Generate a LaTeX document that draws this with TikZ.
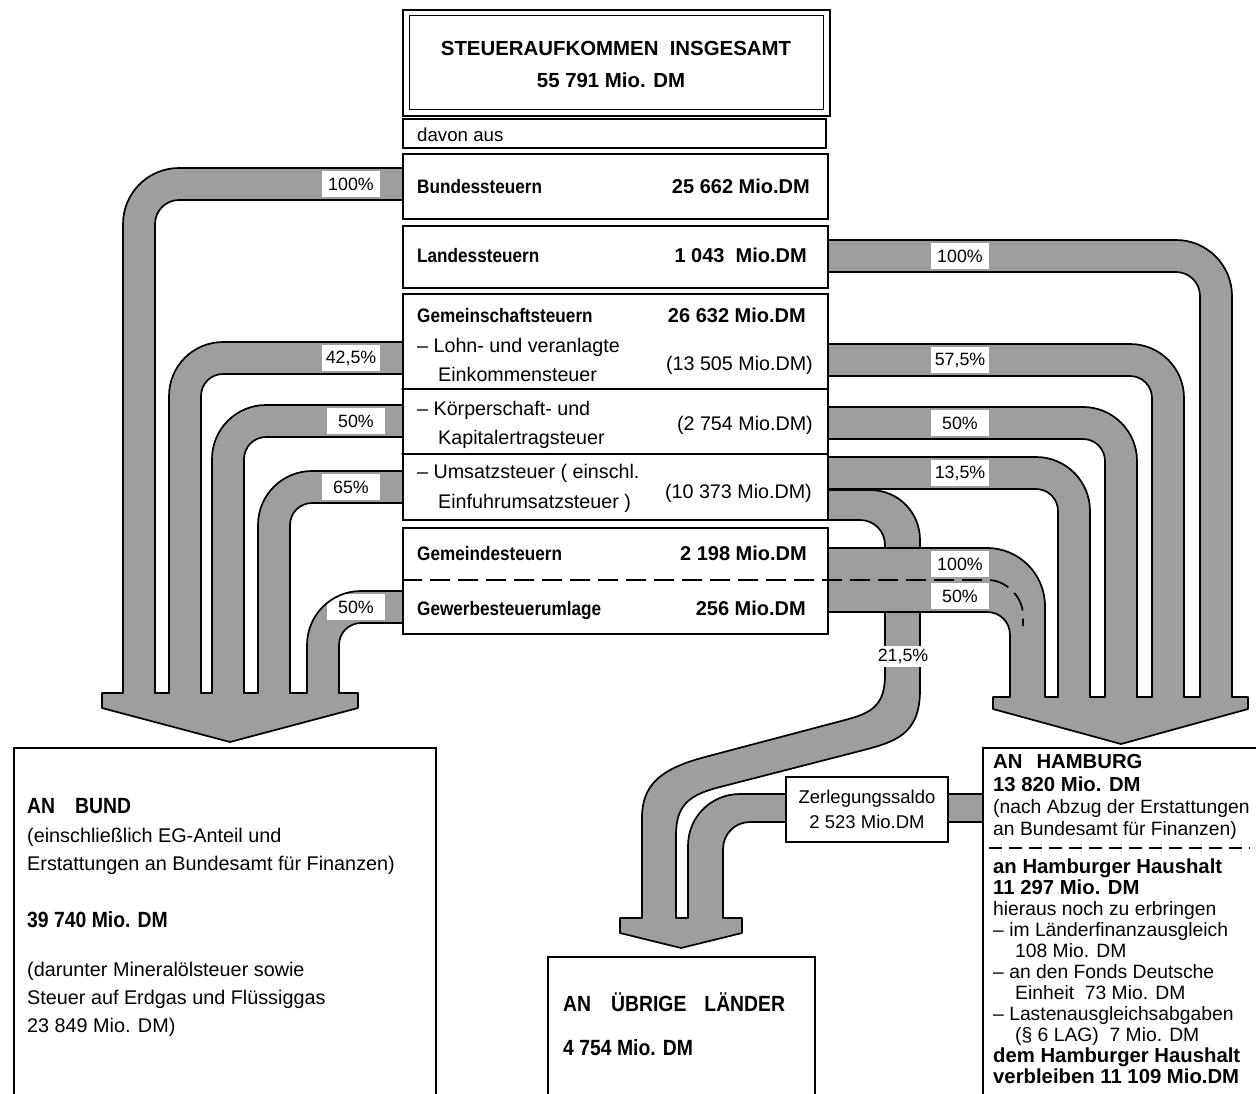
\documentclass[tikz,border=0pt]{standalone}
\usepackage{fontspec}
\setmainfont{Liberation Sans}[BoldFeatures={FakeStretch=0.88}]
\newfontfamily\widesans{Liberation Sans}
\definecolor{bandgray}{gray}{0.62}
\begin{document}
\begin{tikzpicture}[x=1pt,y=-1pt,
  bandstroke/.style={draw=bandgray, line width=32pt, line cap=butt},
  edge/.style={draw=black, line width=1.7pt, line cap=round, line join=round},
  box/.style={draw=black, fill=white, line width=1.7pt, inner sep=0pt, anchor=north west},
  rb/.style={font=\bfseries\fontsize{19.5}{22}\selectfont, inner sep=0pt},
  rn/.style={font=\widesans\bfseries\fontsize{20}{22}\selectfont, inner sep=0pt, anchor=base east},
  rr/.style={font=\fontsize{19.7}{22}\selectfont, inner sep=0pt},
  tt/.style={font=\widesans\bfseries\fontsize{20.4}{22}\selectfont, inner sep=0pt, anchor=base},
  bb/.style={font=\bfseries\fontsize{22}{24}\selectfont, inner sep=0pt, anchor=base west},
  br/.style={font=\fontsize{19.8}{24}\selectfont, inner sep=0pt, anchor=base west},
  hb/.style={font=\widesans\bfseries\fontsize{20.3}{22}\selectfont, inner sep=0pt, anchor=base west},
  hr/.style={font=\fontsize{19.3}{22}\selectfont, inner sep=0pt, anchor=base west},
  pct/.style={fill=white, inner sep=0pt, minimum width=58pt, minimum height=26pt, font=\fontsize{17.8}{20}\selectfont},
]
\useasboundingbox (0,0) rectangle (1256,1093);
\clip (0,0) rectangle (1256,1093);
\fill[white] (0,0) rectangle (1256,1093);

% ---------- middle flow (21,5 %) and Zerlegungssaldo ----------
\fill[bandgray] (827,490) -- (870,490) .. controls (898,490) and (920,512) .. (920,540) -- (920,690)
  .. controls (920,735) and (895,742) .. (860,751) -- (720,787) .. controls (688,795) and (676,806) .. (676,835)
  -- (676,920) -- (642,920) -- (642,818) .. controls (642,785) and (660,769) .. (705,757) -- (845,720)
  .. controls (872,713) and (885,705) .. (885,675) -- (885,545) .. controls (885,531) and (874,520) .. (860,520)
  -- (827,520) -- cycle;
\fill[bandgray] (982,794) -- (740,794) .. controls (711,794) and (688,817) .. (688,846) -- (688,920)
  -- (723,920) -- (723,849) .. controls (723,834) and (735,822) .. (750,822) -- (982,822) -- cycle;
\fill[bandgray] (620,917) -- (742,917) -- (742,933) -- (681,948) -- (620,933) -- cycle;
\path[edge] (827,490) -- (870,490) .. controls (898,490) and (920,512) .. (920,540) -- (920,690)
  .. controls (920,735) and (895,742) .. (860,751) -- (720,787) .. controls (688,795) and (676,806) .. (676,835)
  -- (676,918) -- (688,918) -- (688,846) .. controls (688,817) and (711,794) .. (740,794) -- (982,794);
\path[edge] (827,520) -- (860,520) .. controls (874,520) and (885,531) .. (885,545) -- (885,675)
  .. controls (885,705) and (872,713) .. (845,720) -- (705,757) .. controls (660,769) and (642,785) .. (642,818)
  -- (642,918) -- (620,918) -- (620,933) -- (681,948) -- (742,933) -- (742,918) -- (723,918)
  -- (723,849) .. controls (723,834) and (735,822) .. (750,822) -- (982,822);

% ---------- right flows ----------
\draw[bandstroke, rounded corners=40pt] (827,256) -- (1216,256) -- (1216,699);
\draw[bandstroke, rounded corners=38pt] (827,360) -- (1168,360) -- (1168,699);
\draw[bandstroke, rounded corners=38pt] (827,423) -- (1121,423) -- (1121,699);
\draw[bandstroke, rounded corners=38pt] (827,473) -- (1074,473) -- (1074,699);
\fill[bandgray] (827,548) -- (987,548) .. controls (1019,548) and (1045,574) .. (1045,606) -- (1045,699)
  -- (1010,699) -- (1010,635) .. controls (1010,622) and (1000,612) .. (987,612) -- (827,612) -- cycle;
\fill[bandgray] (993,696) -- (1248,696) -- (1248,709) -- (1121,744) -- (993,709) -- cycle;

% ---------- left flows ----------
\draw[bandstroke, rounded corners=40pt] (402,184) -- (139,184) -- (139,695);
\draw[bandstroke, rounded corners=38pt] (402,358) -- (185,358) -- (185,695);
\draw[bandstroke, rounded corners=38pt] (402,421) -- (228,421) -- (228,695);
\draw[bandstroke, rounded corners=38pt] (402,487) -- (274,487) -- (274,695);
\draw[bandstroke, rounded corners=38pt] (402,607) -- (323,607) -- (323,695);
\fill[bandgray] (102,692) -- (358,692) -- (358,708) -- (230,742) -- (102,708) -- cycle;

% ---------- percentage labels ----------
\node[pct] (l100) at (351,184) {100\%};
\node[pct] (l425) at (351,358) {42,5\%};
\node[pct] (l50a) at (356,421) {50\%};
\node[pct] (l65)  at (351,487) {65\%};
\node[pct] (l50b) at (356,607) {50\%};
\node[pct] (r100) at (960,256) {100\%};
\node[pct] (r575) at (960,360) {57,5\%};
\node[pct] (r50a) at (960,423) {50\%};
\node[pct] (r135) at (960,473) {13,5\%};
\node[pct] (r100b) at (960,564) {100\%};
\node[pct] (r50b) at (960,596) {50\%};
\node[pct, minimum width=60pt, minimum height=21pt] (m215) at (903,656) {21,5\%};

% ---------- right edges ----------
\path[edge, rounded corners=56pt] (827,240) -- (1232,240) -- (1232,697);
\path[edge, rounded corners=24pt] (827,272) -- (1200,272) -- (1200,697);
\path[edge, rounded corners=54pt] (827,344) -- (1184,344) -- (1184,697);
\path[edge, rounded corners=22pt] (827,376) -- (1152,376) -- (1152,697);
\path[edge, rounded corners=54pt] (827,407) -- (1137,407) -- (1137,697);
\path[edge, rounded corners=22pt] (827,439) -- (1105,439) -- (1105,697);
\path[edge, rounded corners=54pt] (827,457) -- (1090,457) -- (1090,697);
\path[edge, rounded corners=22pt] (827,489) -- (1058,489) -- (1058,697);
\path[edge] (827,548) -- (987,548) .. controls (1019,548) and (1045,574) .. (1045,606) -- (1045,697) -- (1058,697);
\path[edge] (827,612) -- (987,612) .. controls (1000,612) and (1010,622) .. (1010,635) -- (1010,697)
  -- (993,697) -- (993,709) -- (1121,744) -- (1248,709) -- (1248,697) -- (1232,697);
\path[edge] (1090,697) -- (1105,697);
\path[edge] (1137,697) -- (1152,697);
\path[edge] (1184,697) -- (1200,697);

% ---------- left edges ----------
\path[edge, rounded corners=56pt] (402,168) -- (123,168) -- (123,693);
\path[edge, rounded corners=24pt] (402,200) -- (155,200) -- (155,693);
\path[edge, rounded corners=54pt] (402,342) -- (169,342) -- (169,693);
\path[edge, rounded corners=22pt] (402,374) -- (201,374) -- (201,693);
\path[edge, rounded corners=54pt] (402,405) -- (212,405) -- (212,693);
\path[edge, rounded corners=22pt] (402,437) -- (244,437) -- (244,693);
\path[edge, rounded corners=54pt] (402,471) -- (258,471) -- (258,693);
\path[edge, rounded corners=22pt] (402,503) -- (290,503) -- (290,693);
\path[edge, rounded corners=54pt] (402,591) -- (307,591) -- (307,693);
\path[edge, rounded corners=22pt] (402,623) -- (339,623) -- (339,693);
\path[edge] (123,693) -- (102,693) -- (102,708) -- (230,742) -- (358,708) -- (358,693) -- (339,693);
\path[edge] (155,693) -- (169,693);
\path[edge] (201,693) -- (212,693);
\path[edge] (244,693) -- (258,693);
\path[edge] (290,693) -- (307,693);

% ---------- central boxes ----------
\node[box, minimum width=427pt, minimum height=106pt] (total) at (402,9) {};
\node[box, minimum width=414pt, minimum height=94pt, line width=1.3pt] (totalin) at (409,15) {};
\node[box, minimum width=423pt, minimum height=29pt] (davon) at (402,118) {};
\node[box, minimum width=425pt, minimum height=65pt] (bund) at (402,153) {};
\node[box, minimum width=425pt, minimum height=62pt] (land) at (402,225) {};
\node[box, minimum width=425pt, minimum height=226pt] (gem) at (402,293) {};
\path[edge] (402,389) -- (827,389);
\path[edge] (402,454) -- (827,454);
\node[box, minimum width=425pt, minimum height=106pt] (gmd) at (402,527) {};

\node[tt] (t1) at (616,55) {STEUERAUFKOMMEN\ \ INSGESAMT};
\node[tt] (t2) at (611,87) {55 791 Mio. DM};
\node[rr, anchor=base west, font=\fontsize{18.7}{22}\selectfont] (t3) at (417,141) {davon aus};
\node[rb, anchor=base west] (t4) at (417,193) {Bundessteuern};
\node[rn] (t5) at (810,193) {25 662 Mio.DM};
\node[rb, anchor=base west] (t6) at (417,262) {Landessteuern};
\node[rn] (t7) at (807,262) {1 043\ \ Mio.DM};
\node[rb, anchor=base west] (t8) at (417,322) {Gemeinschaftsteuern};
\node[rn] (t9) at (806,322) {26 632 Mio.DM};
\node[rr, anchor=base west] (t10) at (417,352) {– Lohn- und veranlagte};
\node[rr, anchor=base west] (t11) at (438,381) {Einkommensteuer};
\node[rr, anchor=base east] (t12) at (813,370) {(13 505 Mio.DM)};
\node[rr, anchor=base west] (t13) at (417,415) {– Körperschaft- und};
\node[rr, anchor=base west] (t14) at (438,444) {Kapitalertragsteuer};
\node[rr, anchor=base east] (t15) at (813,430) {(2 754 Mio.DM)};
\node[rr, anchor=base west] (t16) at (417,478) {– Umsatzsteuer ( einschl.};
\node[rr, anchor=base west] (t17) at (438,508) {Einfuhrumsatzsteuer )};
\node[rr, anchor=base east] (t18) at (812,498) {(10 373 Mio.DM)};
\node[rb, anchor=base west] (t19) at (417,560) {Gemeindesteuern};
\node[rn] (t20) at (807,560) {2 198 Mio.DM};
\node[rb, anchor=base west] (t21) at (417,615) {Gewerbesteuerumlage};
\node[rn] (t22) at (806,615) {256 Mio.DM};

% dashed split of Gemeindesteuern into the flow
\draw[line width=1.7pt, dash pattern=on 20pt off 8pt] (402,580) -- (988,580)
  .. controls (1006,580) and (1023,597) .. (1023,615) -- (1023,626);

% ---------- Zerlegungssaldo ----------
\node[draw, fill=white, line width=1.7pt, minimum width=162pt, minimum height=65pt, inner sep=0pt,
  align=center, font=\fontsize{18.5}{25}\selectfont] (zer) at (867,809.5) {Zerlegungssaldo\\2 523 Mio.DM};

% ---------- receiving boxes ----------
\node[box, minimum width=422pt, minimum height=400pt] (anbund) at (13,747) {};
\node[bb] (b1) at (27,813) {AN\hspace*{20pt}BUND};
\node[br] (b2) at (27,842) {(einschließlich EG-Anteil und};
\node[br] (b3) at (27,870) {Erstattungen an Bundesamt für Finanzen)};
\node[bb] (b4) at (27,927) {39 740 Mio. DM};
\node[br] (b5) at (27,976) {(darunter Mineralölsteuer sowie};
\node[br] (b6) at (27,1004) {Steuer auf Erdgas und Flüssiggas};
\node[br] (b7) at (27,1032) {23 849 Mio. DM)};

\node[box, minimum width=267pt, minimum height=200pt] (anuebrige) at (547,956) {};
\node[bb] (u1) at (563,1011) {AN\hspace*{20pt}ÜBRIGE\hspace*{18pt}LÄNDER};
\node[bb] (u2) at (563,1055) {4 754 Mio. DM};

\node[box, minimum width=300pt, minimum height=400pt] (anhh) at (982,747) {};
\node[hb] (h1) at (993,768) {AN\hspace*{14pt}HAMBURG};
\node[hb] (h2) at (993,791) {13 820 Mio. DM};
\node[hr] (h3) at (993,813) {(nach Abzug der Erstattungen};
\node[hr] (h4) at (993,835) {an Bundesamt für Finanzen)};
\draw[line width=1.5pt, dash pattern=on 13pt off 7pt] (989,848) -- (1250,848);
\node[hb] (h5) at (993,873) {an Hamburger Haushalt};
\node[hb] (h6) at (993,894) {11 297 Mio. DM};
\node[hr] (h7) at (993,915) {hieraus noch zu erbringen};
\node[hr] (h8) at (993,936) {– im Länderfinanzausgleich};
\node[hr] (h9) at (1015,957) {108 Mio. DM};
\node[hr] (h10) at (993,978) {– an den Fonds Deutsche};
\node[hr] (h11) at (1015,999) {Einheit\ \ 73 Mio. DM};
\node[hr] (h12) at (993,1020) {– Lastenausgleichsabgaben};
\node[hr] (h13) at (1015,1041) {(§ 6 LAG)\ \ 7 Mio. DM};
\node[hb] (h14) at (993,1062) {dem Hamburger Haushalt};
\node[hb] (h15) at (993,1083) {verbleiben 11 109 Mio.DM};
\end{tikzpicture}
\end{document}
